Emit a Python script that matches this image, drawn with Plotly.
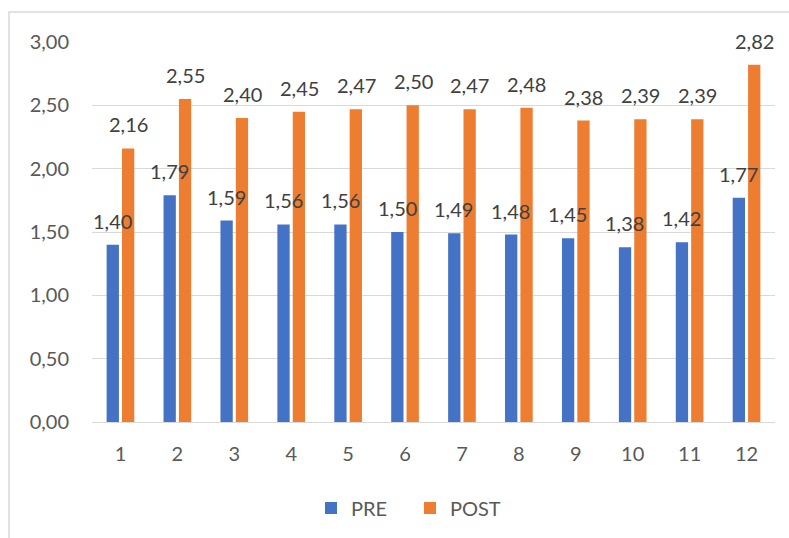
import plotly.graph_objects as go

# Item numbers and mean scores before/after
categories = ["1", "2", "3", "4", "5", "6", "7", "8", "9", "10", "11", "12"]
pre = [1.40, 1.79, 1.59, 1.56, 1.56, 1.50, 1.49, 1.48, 1.45, 1.38, 1.42, 1.77]
post = [2.16, 2.55, 2.40, 2.45, 2.47, 2.50, 2.47, 2.48, 2.38, 2.39, 2.39, 2.82]
y_ticks = [0, 0.5, 1.0, 1.5, 2.0, 2.5, 3.0]

BLUE = "#4472C4"
ORANGE = "#ED7D31"
FONT = "Lato, 'Open Sans', sans-serif"
FS = 20

fig = go.Figure()
fig.add_trace(go.Bar(name="PRE", x=categories, y=pre, marker_color=BLUE,
                     marker_line_width=0))
fig.add_trace(go.Bar(name="POST", x=categories, y=post, marker_color=ORANGE,
                     marker_line_width=0))

# Value labels above each bar (comma decimal separator);
# x given as the category's index on the category axis
annotations = []
for series, shift in ((pre, -8), (post, 8)):
    for idx, val in enumerate(series):
        annotations.append(dict(
            x=idx, y=val, xref="x", yref="y",
            text=f"{val:.2f}".replace(".", ","),
            showarrow=False, xshift=shift, yshift=24,
            yanchor="middle", xanchor="center",
            font=dict(family=FONT, size=FS, color="#404040"),
        ))

L, R, T, B = 92, 14, 42, 115
W, H = 789, 538
pw, ph = W - L - R, H - T - B

fig.update_layout(
    width=W, height=H,
    margin=dict(l=L, r=R, t=T, b=B),
    paper_bgcolor="white", plot_bgcolor="white",
    barmode="group", bargap=0.46, bargroupgap=0.2,
    separators=",.",
    font=dict(family=FONT, size=FS, color="#595959"),
    annotations=annotations,
    showlegend=True,
    legend=dict(orientation="h", x=(410 - L) / pw, xanchor="center",
                y=(T + ph - 508) / ph, yanchor="middle",
                font=dict(family=FONT, size=FS, color="#595959"),
                itemwidth=30, entrywidth=54, entrywidthmode="pixels",
                traceorder="normal"),
    shapes=[dict(type="rect", xref="paper", yref="paper",
                 x0=(9 - L) / pw, x1=(W + 10 - L) / pw,
                 y0=(T + ph - (H + 10)) / ph, y1=(T + ph - 12) / ph,
                 line=dict(color="#D9D9D9", width=1.5),
                 fillcolor="rgba(0,0,0,0)", layer="below")],
)
fig.update_xaxes(type="category", range=[-0.5, 11.5], showgrid=False,
                 showline=True, linecolor="#D9D9D9", linewidth=1, ticks="",
                 ticklabelstandoff=14,
                 tickfont=dict(family=FONT, size=FS, color="#595959"))
fig.update_yaxes(range=[0, 3.0], tickvals=y_ticks, tickformat=".2f",
                 showgrid=True, gridcolor="#D9D9D9", gridwidth=1,
                 zeroline=False, showline=False, ticks="",
                 ticklabelstandoff=22,
                 tickfont=dict(family=FONT, size=FS, color="#595959"))

fig.write_html("out.html")
